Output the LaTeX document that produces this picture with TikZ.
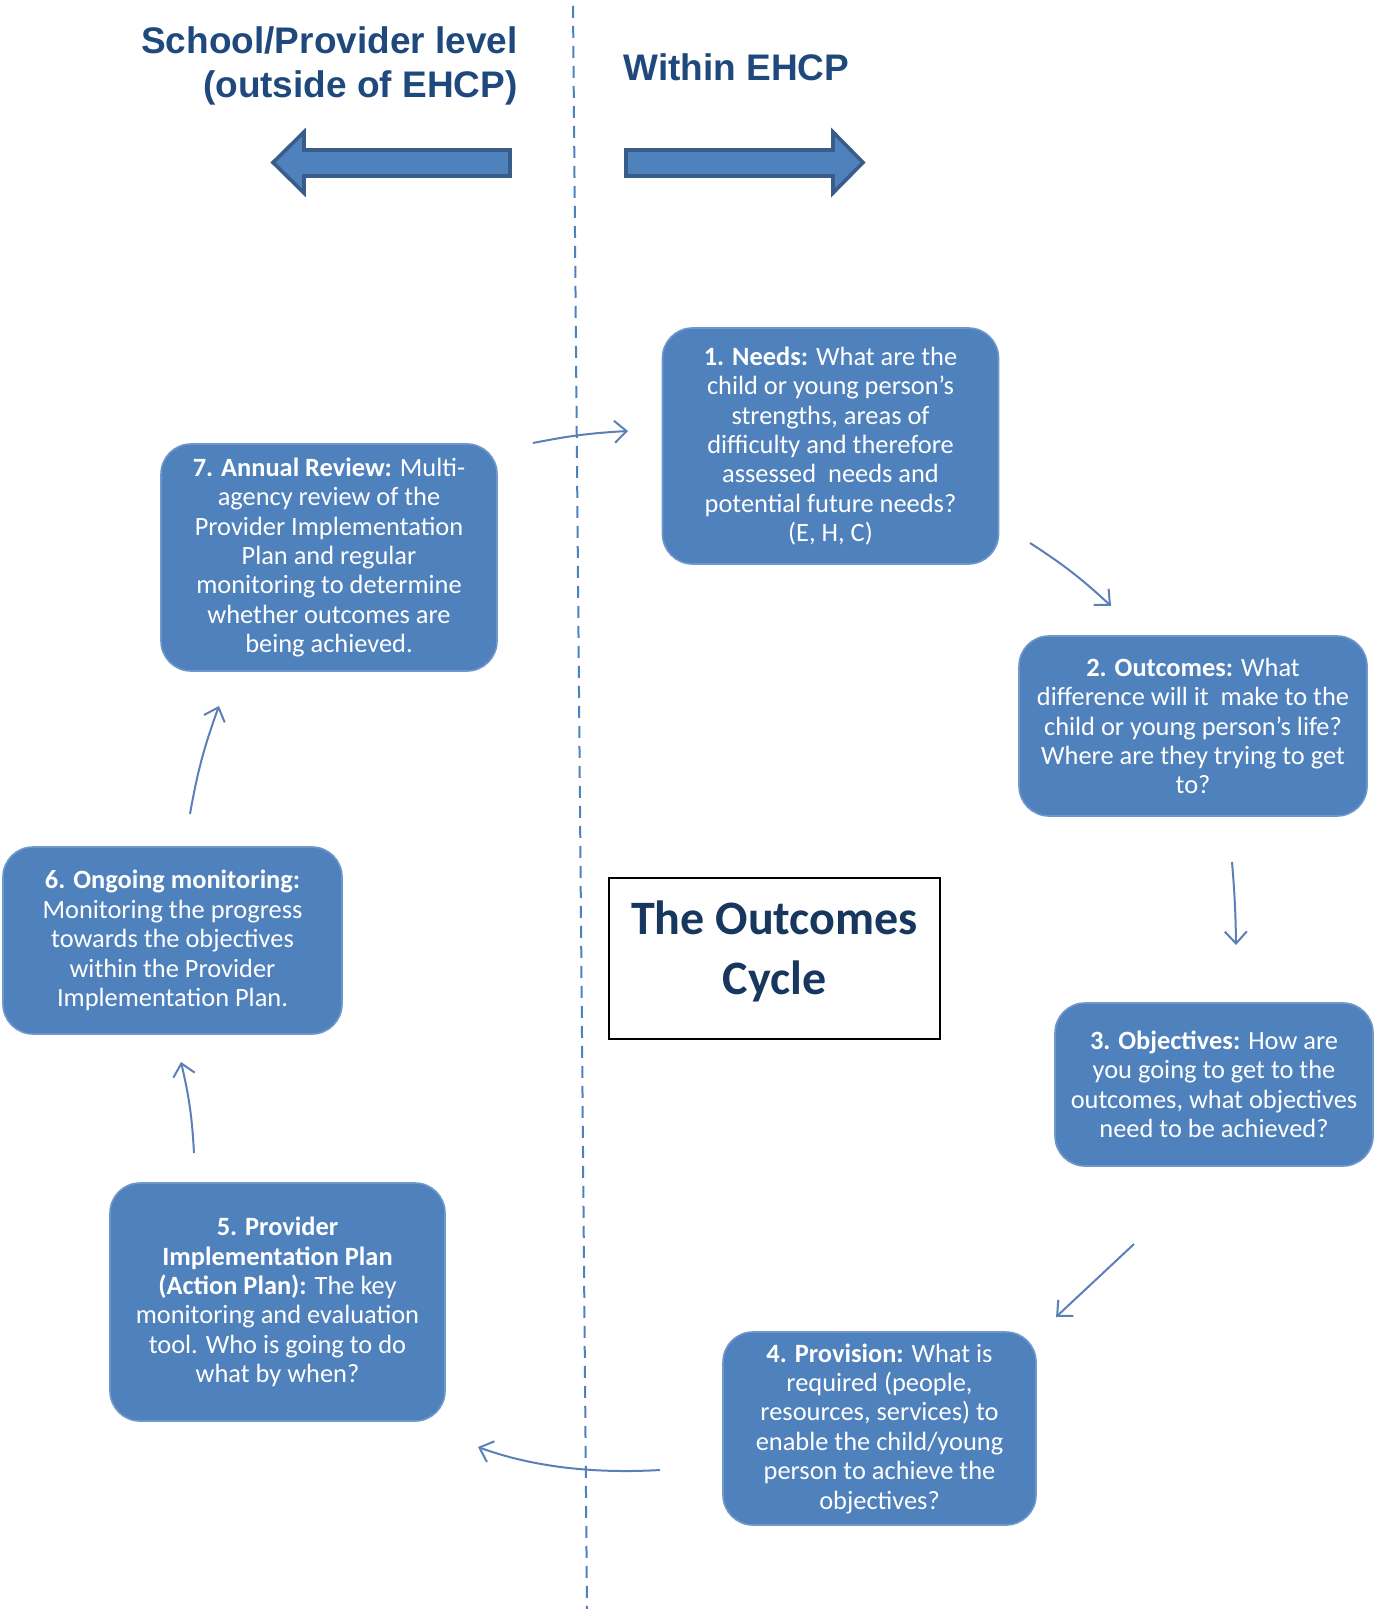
\documentclass[tikz,border=0pt]{standalone}
\usepackage{fontspec}
\setmainfont{Carlito}
\newfontfamily\headfont{Liberation Sans}
\usetikzlibrary{arrows.meta}
\definecolor{boxblue}{HTML}{4F81BD}
\definecolor{boxedge}{HTML}{6F97CB}
\definecolor{arrowedge}{HTML}{385D8A}
\definecolor{headblue}{HTML}{1F497D}
\definecolor{titleblue}{HTML}{17375E}
\definecolor{linkblue}{HTML}{5B7FB8}
\tikzset{
  stepbox/.style={rectangle, rounded corners=15pt, fill=boxblue, draw=boxedge, line width=0.8pt,
    text=white, align=center, inner sep=0pt,
    font=\fontsize{13.2pt}{14.7pt}\selectfont},
  heading/.style={text=headblue, font=\headfont\bfseries\fontsize{18.5pt}{22pt}\selectfont, inner sep=0pt},
  titlebox/.style={rectangle, draw=black, line width=0.7pt, align=center, text=titleblue,
    font=\bfseries\fontsize{24pt}{29.75pt}\selectfont, inner sep=0pt},
  link/.style={draw=linkblue, line width=1pt, -{Straight Barb[length=6pt,width=11pt,line width=1pt]}},
  blockarrow/.style={fill=boxblue, draw=arrowedge, line width=1.8pt, line join=miter},
  divider/.style={draw=boxblue, line width=1pt, dash pattern=on 6pt off 4pt}
}
\begin{document}
\begin{tikzpicture}[x=0.5pt,y=-0.5pt]
\useasboundingbox (0,0) rectangle (1373,1609);

% divider
\coordinate (dtop) at (573,6);
\coordinate (dbot) at (587,1609);
\draw[divider] (dtop) -- (dbot);

% headings
\node[heading, anchor=east, align=right] (hleft) at (518,66) {School/Provider level\\(outside of EHCP)};
\node[heading, anchor=west] (hright) at (623,67) {Within EHCP};

% block arrows
\draw[blockarrow] (510,150) -- (304,150) -- (304,132) -- (273,162.5) -- (304,193) -- (304,176) -- (510,176) -- cycle;
\draw[blockarrow] (626,150) -- (833,150) -- (833,132) -- (863,162.5) -- (833,193) -- (833,176) -- (626,176) -- cycle;

% boxes
\node[stepbox, minimum width=168pt, minimum height=118pt] (b1) at (830.5,446)
  {\textbf{1. Needs:} What are the\\child or young person’s\\strengths, areas of\\difficulty and therefore\\assessed~~needs and\\potential future needs?\\(E, H, C)};
\node[stepbox, minimum width=174pt, minimum height=90pt] (b2) at (1193,726)
  {\textbf{2. Outcomes:} What\\difference will it~~make to the\\child or young person’s life?\\Where are they trying to get\\to?};
\node[stepbox, minimum width=159pt, minimum height=81.5pt] (b3) at (1214,1084.5)
  {\textbf{3. Objectives:} How are\\you going to get to the\\outcomes, what objectives\\need to be achieved?};
\node[stepbox, minimum width=156.5pt, minimum height=96.5pt] (b4) at (879.5,1428.5)
  {\textbf{4. Provision:} What is\\required (people,\\resources, services) to\\enable the child/young\\person to achieve the\\objectives?};
\node[stepbox, minimum width=167.5pt, minimum height=119pt] (b5) at (277.5,1302)
  {\textbf{5. Provider}\\\textbf{Implementation Plan}\\\textbf{(Action Plan):} The key\\monitoring and evaluation\\tool. Who is going to do\\what by when?};
\node[stepbox, minimum width=169.5pt, minimum height=93.5pt] (b6) at (172.5,940.5)
  {\textbf{6. Ongoing monitoring:}\\Monitoring the progress\\towards the objectives\\within the Provider\\Implementation Plan.};
\node[stepbox, minimum width=168pt, minimum height=113.5pt] (b7) at (329,557.5)
  {\textbf{7. Annual Review:} Multi-\\agency review of the\\Provider Implementation\\Plan and regular\\monitoring to determine\\whether outcomes are\\being achieved.};

% title
\node[titlebox, minimum width=165.5pt, minimum height=80.5pt, text depth=11pt] (title) at (774.5,958.5) {The Outcomes\\Cycle};

% connector end points
\coordinate (s71) at (533,443);  \coordinate (e71) at (628,431);
\coordinate (s12) at (1030,543); \coordinate (e12) at (1111,606);
\coordinate (s23) at (1232,862); \coordinate (e23) at (1236,945);
\coordinate (s34) at (1134,1244); \coordinate (e34) at (1056,1317);
\coordinate (s45) at (660,1470); \coordinate (e45) at (478,1447);
\coordinate (s56) at (194,1153); \coordinate (e56) at (181,1062);
\coordinate (s67) at (190,814);  \coordinate (e67) at (219,706);

\draw[link] (s71) to[bend left=4] (e71);
\draw[link] (s12) to[bend left=5] (e12);
\draw[link] (s23) to[bend left=2] (e23);
\draw[link] (s34) -- (e34);
\draw[link] (s45) .. controls (590,1474) and (530,1466) .. (e45);
\draw[link] (s56) to[bend right=5] (e56);
\draw[link] (s67) to[bend left=5] (e67);
\end{tikzpicture}
\end{document}
